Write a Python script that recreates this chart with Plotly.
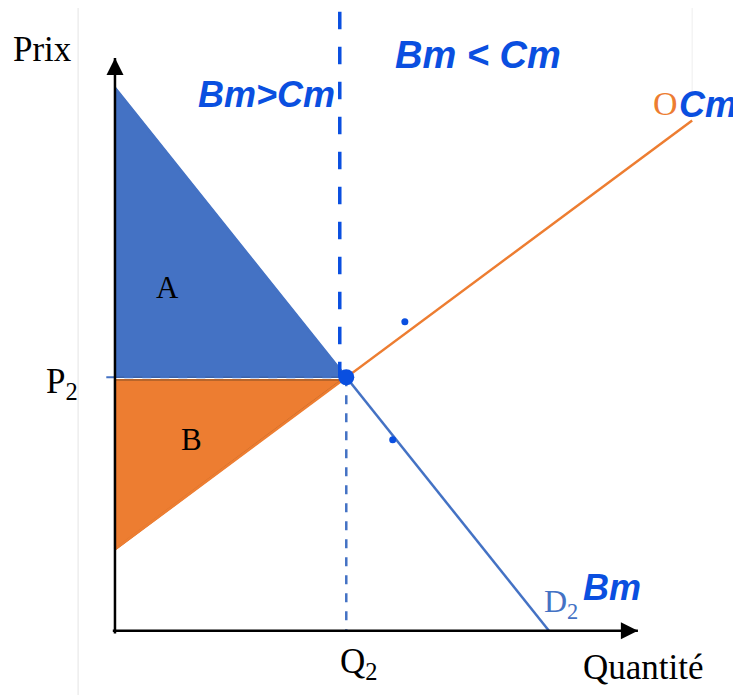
import plotly.graph_objects as go

# --- economic values (quantity, price) ---
demand_q = [0, 10]
demand_p = [10, 0]
supply_q = [0, 13.3]
supply_p = [1.5, 9.4]
q_eq = 5.33
p_eq = 4.67
b_floor = 1.5
marks_q = [6.68, 6.4]     # hand-drawn dots on the curves
marks_p = [5.69, 3.52]
q_axis_end = 12.2
p_axis_end = 10.7

BLUE = "#4472C4"
ORANGE = "#ED7D31"
INK = "#0A4FE0"
SERIF = "Liberation Serif"
HAND = "Liberation Sans"

fig = go.Figure()

# surplus A (consumer)
fig.add_trace(go.Scatter(
    x=[0, 0, q_eq, 0], y=[demand_p[0], p_eq, p_eq, demand_p[0]],
    mode="lines", fill="toself", fillcolor=BLUE,
    line=dict(color="#3A62AA", width=1.5), hoverinfo="skip"
))
# surplus B (producer)
fig.add_trace(go.Scatter(
    x=[0, 0, q_eq - 0.1, 0], y=[b_floor, p_eq - 0.05, p_eq - 0.05, b_floor],
    mode="lines", fill="toself", fillcolor=ORANGE,
    line=dict(color="#B8652A", width=2), hoverinfo="skip"
))

# supply and demand
fig.add_trace(go.Scatter(x=supply_q, y=supply_p, mode="lines",
                         line=dict(color=ORANGE, width=2.5), hoverinfo="skip"))
fig.add_trace(go.Scatter(x=demand_q, y=demand_p, mode="lines",
                         line=dict(color=BLUE, width=2.5), hoverinfo="skip"))

# P2 and Q2 guides
fig.add_trace(go.Scatter(x=[-0.2, q_eq], y=[p_eq, p_eq], mode="lines",
                         line=dict(color=BLUE, width=2, dash="dash"), hoverinfo="skip"))
fig.add_trace(go.Scatter(x=[q_eq, q_eq], y=[p_eq, 0], mode="lines",
                         line=dict(color=BLUE, width=2.5, dash="dash"), hoverinfo="skip"))

# hand-drawn dashed separator
fig.add_trace(go.Scatter(x=[5.18, 5.18], y=[11.4, p_eq], mode="lines",
                         line=dict(color=INK, width=3.5, dash="longdash"), hoverinfo="skip"))

# equilibrium and hand dots
fig.add_trace(go.Scatter(x=[q_eq], y=[p_eq], mode="markers",
                         marker=dict(color=INK, size=16), hoverinfo="skip"))
fig.add_trace(go.Scatter(x=marks_q, y=marks_p, mode="markers",
                         marker=dict(color=INK, size=7), hoverinfo="skip"))

# axes with arrow tips
fig.add_trace(go.Scatter(x=[0, 0], y=[-0.05, p_axis_end - 0.15], mode="lines",
                         line=dict(color="black", width=2.5), hoverinfo="skip"))
fig.add_trace(go.Scatter(x=[-0.05, q_axis_end - 0.15], y=[0, 0], mode="lines",
                         line=dict(color="black", width=2.5), hoverinfo="skip"))
fig.add_trace(go.Scatter(x=[0], y=[p_axis_end - 0.15], mode="markers", hoverinfo="skip",
                         marker=dict(symbol="arrow-up", size=17, color="black")))
fig.add_trace(go.Scatter(x=[q_axis_end - 0.15], y=[0], mode="markers", hoverinfo="skip",
                         marker=dict(symbol="arrow-right", size=17, color="black")))

# faint page edges
fig.add_shape(type="line", xref="x", yref="paper", x0=-0.85, x1=-0.85, y0=0, y1=1,
              line=dict(color="#e4e4e4", width=1))
fig.add_shape(type="line", xref="x", yref="paper", x0=13.3, x1=13.3, y0=0.87, y1=1,
              line=dict(color="#eeeeee", width=1))

def label(x, y, text, size, color="black", font=SERIF, xanchor="center"):
    fig.add_annotation(x=x, y=y, xref="x", yref="y", text=text, showarrow=False,
                       font=dict(family=font, size=size, color=color), xanchor=xanchor)

label(-1.68, 10.7, "Prix", 35)
label(-1.22, 4.55, "P<sub>2</sub>", 35)
label(5.62, -0.6, "Q<sub>2</sub>", 35)
label(12.17, -0.68, "Quantité", 35)
label(1.2, 6.32, "A", 31)
label(1.77, 3.52, "B", 31)
label(12.35, 9.72, "O", 34, ORANGE, xanchor="left")
label(9.85, 0.5, "D<sub>2</sub>", 32, BLUE, xanchor="left")

# handwriting
label(3.5, 9.87, "<b><i>Bm&gt;Cm</i></b>", 36, INK, font=HAND)
label(8.36, 10.6, "<b><i>Bm &lt; Cm</i></b>", 38, INK, font=HAND)
label(12.95, 9.7, "<b><i>Cm</i></b>", 36, INK, font=HAND, xanchor="left")
label(10.75, 0.8, "<b><i>Bm</i></b>", 36, INK, font=HAND, xanchor="left")

# page body adds an 8 px offset, so ranges are shifted to keep the origin at (115, 631)
fig.update_layout(
    width=741, height=695, margin=dict(l=0, r=0, t=0, b=0),
    paper_bgcolor="white", plot_bgcolor="white", showlegend=False,
    xaxis=dict(range=[-2.465, 14.61], visible=False, fixedrange=True),
    yaxis=dict(range=[-1.33, 11.47], visible=False, fixedrange=True),
)

fig.write_html("out.html")
